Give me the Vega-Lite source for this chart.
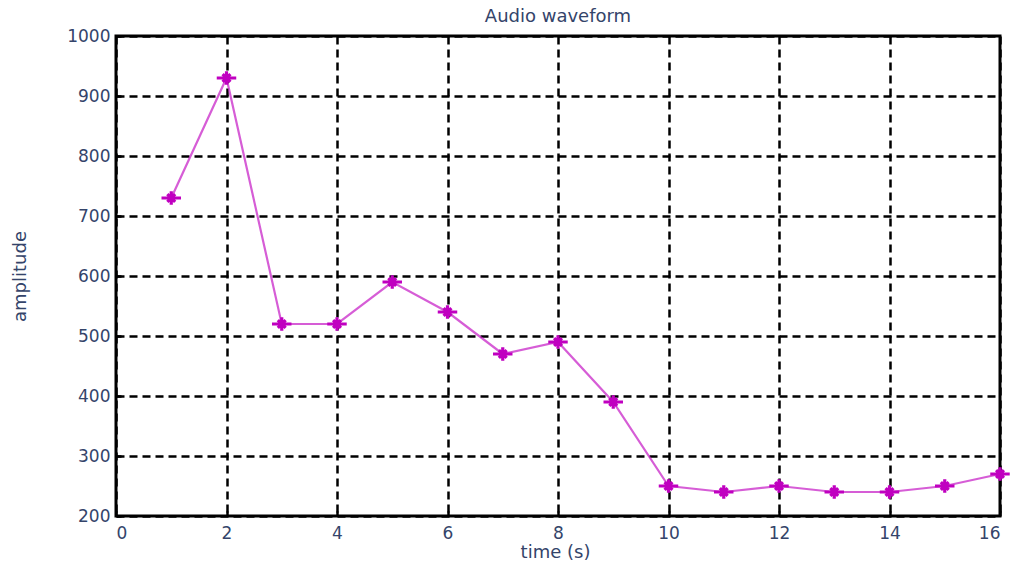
{
  "$schema": "https://vega.github.io/schema/vega-lite/v6.json",
  "autosize": {"type": "none"},
  "padding": {"left": 116, "top": 36, "right": 16, "bottom": 50},
  "width": 884,
  "height": 480,
  "background": "white",
  "title": {
    "text": "Audio waveform",
    "font": "DejaVu Sans",
    "fontSize": 18,
    "fontWeight": "normal",
    "color": "#34446a",
    "offset": 0,
    "baseline": "alphabetic",
    "dy": 13,
    "anchor": "middle"
  },
  "config": {
    "view": {"stroke": "black", "strokeWidth": 3},
    "axis": {
      "labelFont": "DejaVu Sans",
      "labelFontSize": 17,
      "labelColor": "#34446a",
      "titleFont": "DejaVu Sans",
      "titleFontSize": 18,
      "titleFontWeight": "normal",
      "titleColor": "#34446a",
      "grid": true,
      "gridColor": "black",
      "gridDash": [8, 5],
      "gridWidth": 2.5,
      "gridOpacity": 1,
      "domain": false,
      "tickColor": "black",
      "tickWidth": 2.5,
      "tickSize": -5
    }
  },
  "data": {
    "values": [
      {"t": 1, "a": 730},
      {"t": 2, "a": 930},
      {"t": 3, "a": 520},
      {"t": 4, "a": 520},
      {"t": 5, "a": 590},
      {"t": 6, "a": 540},
      {"t": 7, "a": 470},
      {"t": 8, "a": 490},
      {"t": 9, "a": 390},
      {"t": 10, "a": 250},
      {"t": 11, "a": 240},
      {"t": 12, "a": 250},
      {"t": 13, "a": 240},
      {"t": 14, "a": 240},
      {"t": 15, "a": 250},
      {"t": 16, "a": 270}
    ]
  },
  "encoding": {
    "x": {
      "field": "t",
      "type": "quantitative",
      "scale": {"domain": [0, 16], "nice": false, "zero": false},
      "axis": {
        "title": "time (s)",
        "values": [0, 2, 4, 6, 8, 10, 12, 14, 16],
        "format": "d",
        "labelPadding": 14,
        "titleX": 439,
        "titleY": 36,
        "titleBaseline": "middle",
        "titleAlign": "center"
      }
    },
    "y": {
      "field": "a",
      "type": "quantitative",
      "scale": {"domain": [200, 1000], "nice": false, "zero": false},
      "axis": {
        "title": "amplitude",
        "values": [200, 300, 400, 500, 600, 700, 800, 900, 1000],
        "format": "d",
        "labelPadding": 11,
        "titleX": -96,
        "titleY": 240,
        "titleAngle": -90,
        "titleBaseline": "middle",
        "titleAlign": "center"
      }
    }
  },
  "layer": [
    {
      "mark": {"type": "line", "color": "#c418c4", "strokeWidth": 2.2, "opacity": 0.7}
    },
    {
      "mark": {
        "type": "point",
        "shape": "M-1,0L1,0M0,-0.7L0,0.7M-0.4,-0.4L0.4,0.4M-0.4,0.4L0.4,-0.4",
        "filled": false,
        "color": "#c000c0",
        "strokeWidth": 3.2,
        "size": 380,
        "opacity": 1
      }
    }
  ]
}
